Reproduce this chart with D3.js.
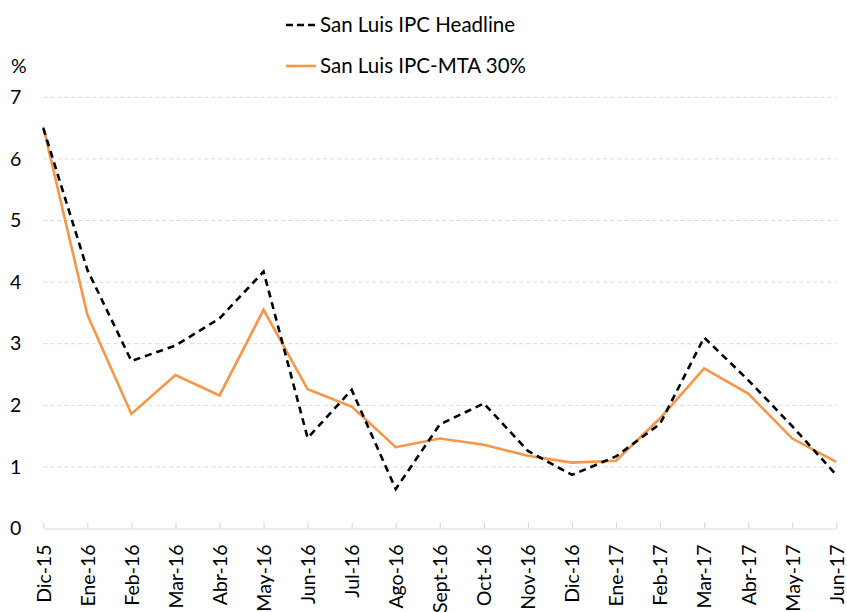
<!DOCTYPE html>
<html>
<head>
<meta charset="utf-8">
<script src="https://cdn.jsdelivr.net/npm/d3@7"></script>
<style>
  body { margin: 0; background: #fff; }
  svg { display: block; font-family: "Lato", "Open Sans", sans-serif; }
</style>
</head>
<body>
<div id="chart"></div>
<script>
// data
const months = ["Dic-15", "Ene-16", "Feb-16", "Mar-16", "Abr-16", "May-16", "Jun-16", "Jul-16", "Ago-16",
    "Sept-16", "Oct-16", "Nov-16", "Dic-16", "Ene-17", "Feb-17", "Mar-17", "Abr-17", "May-17", "Jun-17"];
const headline = [6.5, 4.2, 2.72, 2.97, 3.41, 4.17, 1.47, 2.25, 0.64, 1.69, 2.03, 1.26, 0.87, 1.17, 1.70, 3.10, 2.41, 1.66, 0.87];
const mta30 = [6.52, 3.47, 1.86, 2.49, 2.16, 3.55, 2.26, 1.98, 1.32, 1.46, 1.36, 1.18, 1.07, 1.10, 1.79, 2.60, 2.19, 1.46, 1.08];
const yTicks = [0, 1, 2, 3, 4, 5, 6, 7];
const seriesNames = ["San Luis IPC Headline", "San Luis IPC-MTA 30%"];

const width = 847, height = 612;
const margin = { top: 97.3, right: 10.7, bottom: 83.5, left: 43.3 };
const colorHeadline = "#000000";
const colorMta = "#f79646";
const colorGrid = "#d9d9d9";
const fontSize = 19.5;

const svg = d3.select("#chart")
    .append("svg")
    .attr("width", width)
    .attr("height", height);

const x = d3.scalePoint()
    .domain(months)
    .range([margin.left, width - margin.right]);

const y = d3.scaleLinear()
    .domain([0, 7])
    .range([height - margin.bottom, margin.top]);

// gridlines
svg.append("g")
    .selectAll("line")
    .data(yTicks.filter(d => d > 0))
    .join("line")
    .attr("x1", margin.left)
    .attr("x2", width - margin.right)
    .attr("y1", d => y(d))
    .attr("y2", d => y(d))
    .attr("stroke", colorGrid)
    .attr("stroke-width", 1)
    .attr("stroke-dasharray", "4,3");

// x axis (ticks pointing up, like the source)
const xAxis = svg.append("g")
    .attr("transform", `translate(0,${y(0)})`)
    .call(d3.axisBottom(x).tickSizeInner(-6).tickSizeOuter(0).tickPadding(0));
xAxis.select(".domain").attr("stroke", colorGrid).attr("stroke-width", 1.2);
xAxis.selectAll(".tick line").attr("stroke", colorGrid).attr("stroke-width", 1.2);
xAxis.selectAll(".tick text")
    .attr("font-size", fontSize)
    .attr("font-family", "Lato, sans-serif")
    .attr("fill", "#000")
    .attr("transform", "rotate(-90)")
    .attr("text-anchor", "end")
    .attr("x", -16)
    .attr("y", 0)
    .attr("dy", "0.35em");

// y axis labels only
const yAxis = svg.append("g")
    .attr("transform", `translate(${margin.left},0)`)
    .call(d3.axisLeft(y).tickValues(yTicks).tickFormat(d3.format("d")).tickSize(0).tickPadding(22));
yAxis.select(".domain").remove();
yAxis.selectAll(".tick text")
    .attr("font-size", fontSize)
    .attr("font-family", "Lato, sans-serif")
    .attr("fill", "#000");

svg.append("text")
    .attr("x", 11)
    .attr("y", 66)
    .attr("dy", "0.35em")
    .attr("font-size", fontSize)
    .text("%");

const line = d3.line()
    .x((d, i) => x(months[i]))
    .y(d => y(d));

svg.append("path")
    .datum(mta30)
    .attr("fill", "none")
    .attr("stroke", colorMta)
    .attr("stroke-width", 2.6)
    .attr("stroke-linejoin", "miter")
    .attr("d", line);

svg.append("path")
    .datum(headline)
    .attr("fill", "none")
    .attr("stroke", colorHeadline)
    .attr("stroke-width", 2.6)
    .attr("stroke-dasharray", "7,5")
    .attr("d", line);

// legend
const legend = svg.append("g");
const legendRows = [
    { name: seriesNames[0], color: colorHeadline, dash: "7,4", y: 25 },
    { name: seriesNames[1], color: colorMta, dash: null, y: 66 }
];
legendRows.forEach(r => {
    legend.append("line")
        .attr("x1", 286).attr("x2", 316)
        .attr("y1", r.y).attr("y2", r.y)
        .attr("stroke", r.color)
        .attr("stroke-width", 2.6)
        .attr("stroke-dasharray", r.dash);
    legend.append("text")
        .attr("x", 320)
        .attr("y", r.y)
        .attr("dy", "0.35em")
        .attr("font-size", 20.5)
        .text(r.name);
});
</script>
</body>
</html>
